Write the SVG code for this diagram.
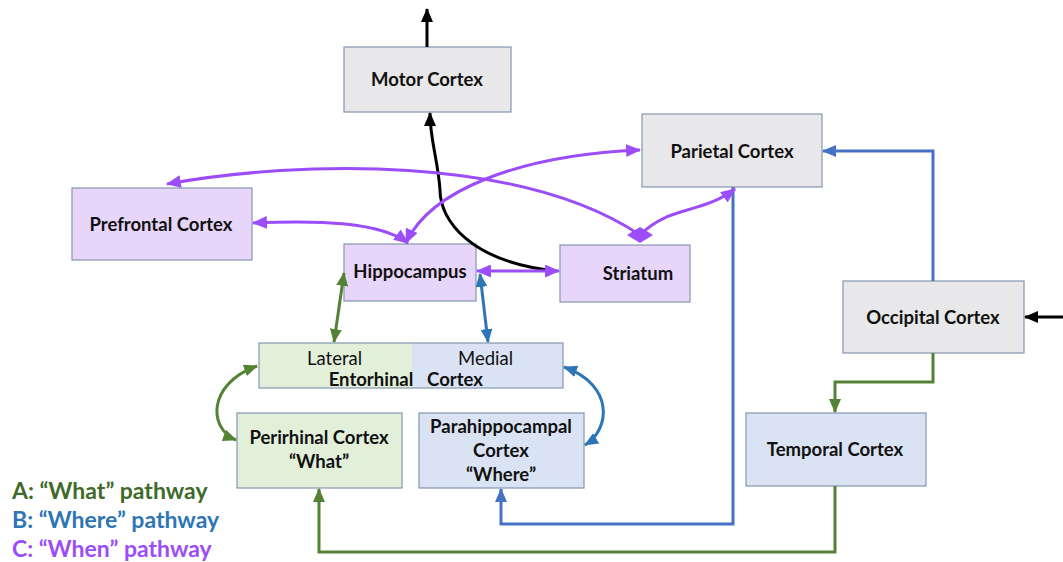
<svg xmlns="http://www.w3.org/2000/svg" width="1063" height="562" viewBox="0 0 1063 562">
<defs>
<marker id="mk" viewBox="0 0 14 12" refX="13" refY="6" markerWidth="14" markerHeight="12" markerUnits="userSpaceOnUse" orient="auto-start-reverse"><path d="M0,0 L14,6 L0,12 Z" fill="#000"/></marker>
<marker id="mp" viewBox="0 0 14 12" refX="13" refY="6" markerWidth="15" markerHeight="13" markerUnits="userSpaceOnUse" orient="auto-start-reverse"><path d="M0,0 L14,6 L0,12 Z" fill="#9b4dfa"/></marker>
<marker id="md" viewBox="0 0 26 16" refX="13" refY="8" markerWidth="26" markerHeight="16" markerUnits="userSpaceOnUse" orient="0"><path d="M0,8 L13,0 L26,8 L13,16 Z" fill="#9b4dfa"/></marker>
<marker id="mg" viewBox="0 0 14 12" refX="13" refY="6" markerWidth="14" markerHeight="12" markerUnits="userSpaceOnUse" orient="auto-start-reverse"><path d="M0,0 L14,6 L0,12 Z" fill="#548235"/></marker>
<marker id="mb" viewBox="0 0 14 12" refX="13" refY="6" markerWidth="14" markerHeight="12" markerUnits="userSpaceOnUse" orient="auto-start-reverse"><path d="M0,0 L14,6 L0,12 Z" fill="#2e75b6"/></marker>
<marker id="mb2" viewBox="0 0 14 12" refX="13" refY="6" markerWidth="14" markerHeight="12" markerUnits="userSpaceOnUse" orient="auto-start-reverse"><path d="M0,0 L14,6 L0,12 Z" fill="#4472c4"/></marker>
</defs>
<style>
.box{stroke:#8497b0;stroke-width:1.2}
.purple{fill:#e8d5fa}
.gray{fill:#e8e7e9}
.green{fill:#e2efd9}
.blue{fill:#dae3f3}
.lbl{font-family:Lato,"Open Sans","Liberation Sans",sans-serif;font-weight:bold;font-size:18.5px;fill:#111;text-anchor:middle}
.nrm{font-family:Lato,"Open Sans","Liberation Sans",sans-serif;font-size:18.5px;fill:#111}
.c{fill:none;stroke-width:3}
.k{stroke:#000}
.p{stroke:#9b4dfa}
.g{stroke:#548235}
.b{stroke:#2e75b6}
.b2{stroke:#4472c4}
.leg{font-family:Lato,"Open Sans","Liberation Sans",sans-serif;font-weight:bold;font-size:23px}
</style>
<rect width="1063" height="562" fill="#fff"/>

<g id="motor"><rect class="box gray" x="344" y="47" width="167" height="65"/><text class="lbl" x="427" y="86">Motor Cortex</text></g>
<g id="parietal"><rect class="box gray" x="642" y="114" width="180" height="73"/><text class="lbl" x="732" y="158">Parietal Cortex</text></g>
<g id="prefrontal"><rect class="box purple" x="72" y="188" width="180" height="72"/><text class="lbl" x="161" y="231">Prefrontal Cortex</text></g>
<g id="hippocampus"><rect class="box purple" x="344" y="244" width="132" height="57"/><text class="lbl" x="410" y="278">Hippocampus</text></g>
<g id="striatum"><rect class="box purple" x="560" y="245" width="130" height="57"/><text class="lbl" x="638" y="280">Striatum</text></g>
<g id="occipital"><rect class="box gray" x="843" y="281" width="181" height="72"/><text class="lbl" x="933" y="324">Occipital Cortex</text></g>
<g id="entorhinal">
<rect x="259" y="343" width="153" height="45" class="green"/>
<rect x="412" y="343" width="151" height="45" class="blue"/>
<rect x="259" y="343" width="304" height="45" fill="none" class="box" stroke="#555"/>
<text class="nrm" x="307" y="365">Lateral</text>
<text class="nrm" x="458" y="365">Medial</text>
<text class="lbl" x="371" y="386">Entorhinal</text>
<text class="lbl" x="455" y="386">Cortex</text>
</g>
<g id="perirhinal"><rect class="box green" x="237" y="413" width="165" height="75"/><text class="lbl" x="319" y="444">Perirhinal Cortex</text><text class="lbl" x="319" y="468">“What”</text></g>
<g id="parahippocampal"><rect class="box blue" x="419" y="413" width="165" height="75"/><text class="lbl" x="501" y="433">Parahippocampal</text><text class="lbl" x="501" y="457">Cortex</text><text class="lbl" x="501" y="481">“Where”</text></g>
<g id="temporal"><rect class="box blue" x="746" y="413" width="180" height="73"/><text class="lbl" x="835" y="456">Temporal Cortex</text></g>

<g id="connectors">
<path class="c k" d="M427,47 L427,9" marker-end="url(#mk)"/>
<path class="c k" d="M1063,317 L1025,317" marker-end="url(#mk)"/>
<path class="c k" d="M556,271 C470,262 440,220 440,190 C438,160 430,140 430,113" marker-end="url(#mk)"/>
<path class="c b2" d="M933,281 L933,151 L823,151" marker-end="url(#mb2)"/>
<path class="c g" d="M933,353 L933,382 L835,382 L835,412" marker-end="url(#mg)"/>
<path class="c g" d="M835,486 L835,552 L319,552 L319,489" marker-end="url(#mg)"/>
<path class="c b2" d="M733,187 L733,524 L501,524 L501,489" marker-end="url(#mb2)"/>
<path class="c p" d="M167,184 C300,160 520,155 640,235" marker-start="url(#mp)"/>
<path class="c p" d="M640,235 C670,205 700,215 735,189" marker-start="url(#md)" marker-end="url(#mp)"/>
<path class="c p" d="M406,243 C430,190 520,155 640,150" marker-start="url(#mp)" marker-end="url(#mp)"/>
<path class="c p" d="M253,223 C320,220 380,222 408,243" marker-start="url(#mp)" marker-end="url(#mp)"/>
<path class="c p" d="M477,271 L559,271" marker-start="url(#mp)" marker-end="url(#mp)"/>
<path class="c g" d="M344,273 L334,342" marker-start="url(#mg)" marker-end="url(#mg)"/>
<path class="c b" d="M480,274 L488,342" marker-start="url(#mb)" marker-end="url(#mb)"/>
<path class="c g" d="M257,366 C205,385 210,430 236,440" marker-start="url(#mg)" marker-end="url(#mg)"/>
<path class="c b" d="M564,367 C615,385 610,430 585,445" marker-start="url(#mb)" marker-end="url(#mb)"/>
</g>

<g id="legend">
<text class="leg" x="12" y="499" fill="#3f6b2a">A: “What” pathway</text>
<text class="leg" x="12" y="528" fill="#2e75b6">B: “Where” pathway</text>
<text class="leg" x="12" y="557" fill="#9b4dfa">C: “When” pathway</text>
</g>
</svg>
